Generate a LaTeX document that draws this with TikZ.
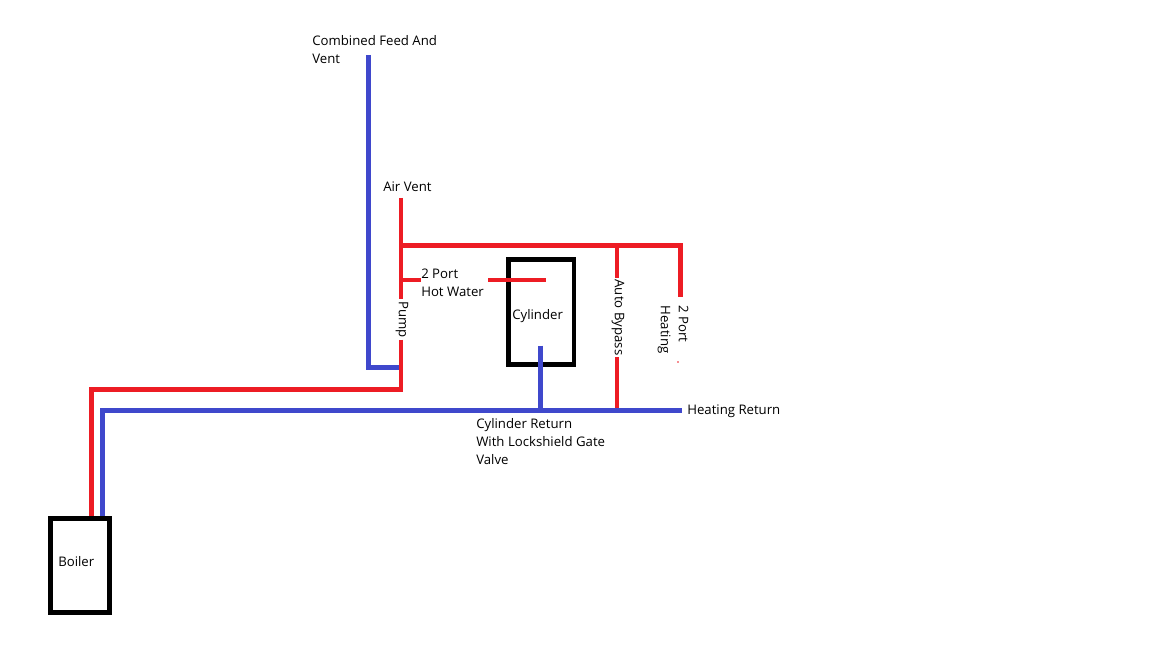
\documentclass[tikz,border=0pt]{standalone}
\usepackage{fontspec}
\usepackage{xcolor}
\usetikzlibrary{calc}
\setmainfont{Open Sans}
\definecolor{hotc}{HTML}{ED1C24}
\definecolor{coldc}{HTML}{3F48CC}
\tikzset{
  hot/.style={draw=hotc,line width=3.3pt},
  cold/.style={draw=coldc,line width=3.3pt},
  tank/.style={draw=black,line width=3.5pt,fill=white,inner sep=0pt},
  lbl/.style={font=\fontsize{9.9}{13.5}\selectfont,align=left,inner sep=0pt,anchor=west},
  vlbl/.style={font=\fontsize{9.9}{13.5}\selectfont,align=left,inner ysep=0pt,inner xsep=1.2pt,rotate=-90}
}

\begin{document}
\begin{tikzpicture}[x=0.75pt,y=-0.75pt]
\useasboundingbox (0,0) rectangle (1152,648);
\node[tank,minimum width=49pt,minimum height=78.5pt] (cyl) at (541.2,312) {};
\node[tank,minimum width=44.5pt,minimum height=70.5pt] (boiler) at (80,565.3) {};
\node[lbl] (feedlbl) at (312,49.5) {Combined Feed And\\Vent};
\node[lbl] (ventlbl) at (383,187) {Air Vent};
\node[lbl] (hwlbl) at (421,283) {2 Port\\Hot Water};
\node[lbl] (cyllbl) at (512,316.5) {Cylinder};
\node[lbl] (boilerlbl) at (58,562) {Boiler};
\node[lbl] (retlbl) at (687,411.5) {Heating Return};
\node[lbl] (cretlbl) at (476,442) {Cylinder Return\\With Lockshield Gate\\Valve};
\node[vlbl] (pump) at (402,319.5) {Pump};
\node[vlbl] (bypass) at (618,317.5) {Auto Bypass};
\node[vlbl,inner xsep=6pt] (heat) at (673,329.5) {2 Port\\Heating};
\coordinate (feedtop) at (368.5,55);
\coordinate (feedbot) at (368.5,367.3);
\coordinate (feedend) at (399,367.3);
\coordinate (ventend) at (400.8,198);
\coordinate (teeh) at (400.8,245.7);
\coordinate (teew) at (400.8,280.3);
\coordinate (pumpbot) at (400.8,389.5);
\coordinate (boilerhot) at (91.3,389.5);
\coordinate (boilercold) at (102.3,410.5);
\coordinate (retend) at (681.5,410.5);
\coordinate (hwin) at (488,280.3);
\coordinate (hwend) at (545.7,280.3);
\coordinate (crettop) at (540.3,345.7);
\coordinate (bypasstop) at (617,245.7);
\coordinate (bypassbot) at (617,410.5);
\coordinate (heatc) at (680.5,245.7);
\draw[hot] (ventend) -- (ventend |- pump.west);
\draw[hot] (ventend |- pump.east) -- (pumpbot) -- (boilerhot) -- (boilerhot |- boiler.north);
\draw[hot] (teeh) -- (heatc) -- (heatc |- heat.west);
\draw[hot] (teew) -- (hwlbl.west |- teew);
\draw[hot] (hwin) -- (hwend);
\draw[hot] (bypasstop) -- (bypasstop |- bypass.west);
\draw[hot] (bypasstop |- bypass.east) -- (bypassbot);
\draw[cold] (feedtop) -- (feedbot) -- (feedend);
\draw[cold] (boilercold |- boiler.north) -- (boilercold) -- (retend);
\draw[cold] (crettop) -- (crettop |- retend);
\fill[hotc] (678,362) circle (0.7pt);
\end{tikzpicture}
\end{document}
